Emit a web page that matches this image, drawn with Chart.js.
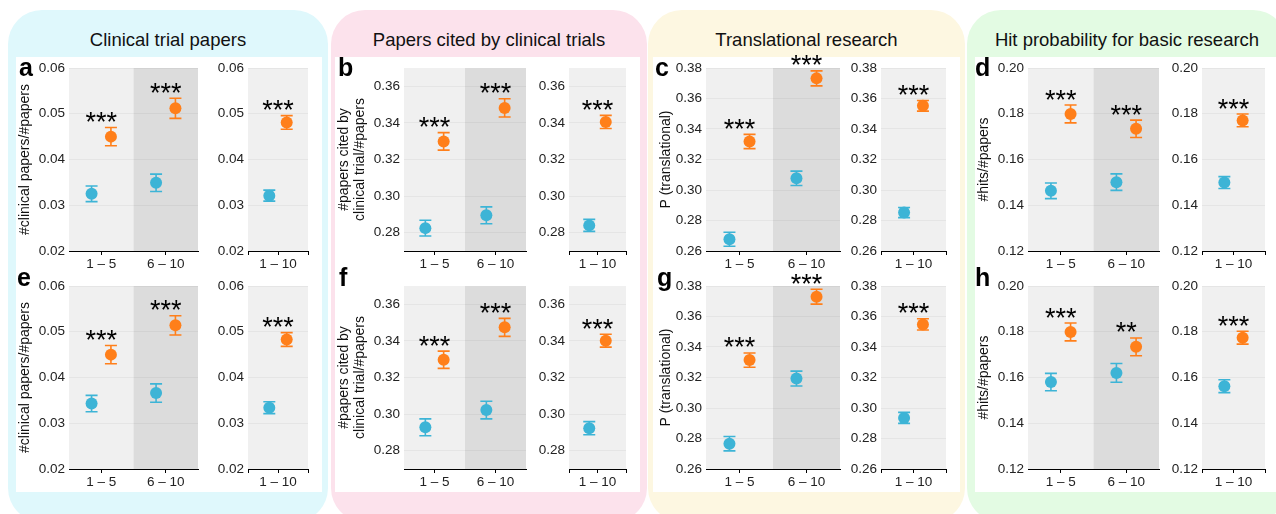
<!DOCTYPE html>
<html><head><meta charset="utf-8">
<script src="https://cdn.jsdelivr.net/npm/chart.js@4.4.1/dist/chart.umd.min.js"></script>
<style>
html,body{margin:0;padding:0;background:#fff;}
#root{position:relative;width:1276px;height:514px;overflow:hidden;font-family:"Liberation Sans",Arial,Helvetica,sans-serif;}
.panel{position:absolute;top:10px;height:512px;border-radius:34px;}
.inner{position:absolute;top:57px;height:435px;background:#fff;}
.ptitle{position:absolute;top:29px;height:22px;line-height:22px;font-size:18.5px;text-align:center;color:#111;white-space:nowrap;}
.letter{position:absolute;font-weight:bold;font-size:25px;line-height:25px;color:#000;}
canvas{position:absolute;}
</style></head><body><div id="root"></div>
<script>
// ---------------- data ----------------
const groupLabels = ['1 \u2013 5', '6 \u2013 10'];
const allLabels = ['', '1 \u2013 10', ''];

const clinTicks = [0.02, 0.03, 0.04, 0.05, 0.06];
const citedTicks = [0.28, 0.30, 0.32, 0.34, 0.36];
const transTicks = [0.26, 0.28, 0.30, 0.32, 0.34, 0.36, 0.38];
const hitTicks = [0.12, 0.14, 0.16, 0.18, 0.20];

// order: [1-5, 6-10, 1-10]
const aBlue = [0.0325, 0.0349, 0.0321];
const aBlueErr = [0.0017, 0.0019, 0.0012];
const aOrange = [0.0450, 0.0512, 0.0481];
const aOrangeErr = [0.0020, 0.0022, 0.0015];
const aSig = ['***', '***', '***'];

const eBlue = [0.0343, 0.0366, 0.0334];
const eBlueErr = [0.0018, 0.0020, 0.0013];
const eOrange = [0.0450, 0.0514, 0.0483];
const eOrangeErr = [0.0020, 0.0021, 0.0015];
const eSig = ['***', '***', '***'];

const bBlue = [0.2825, 0.2895, 0.2840];
const bBlueErr = [0.0043, 0.0046, 0.0033];
const bOrange = [0.3299, 0.3482, 0.3405];
const bOrangeErr = [0.0048, 0.0050, 0.0036];
const bSig = ['***', '***', '***'];

const fBlue = [0.2928, 0.3022, 0.2923];
const fBlueErr = [0.0046, 0.0048, 0.0036];
const fOrange = [0.3297, 0.3474, 0.3401];
const fOrangeErr = [0.0047, 0.0049, 0.0035];
const fSig = ['***', '***', '***'];

const cBlue = [0.2677, 0.3077, 0.2852];
const cBlueErr = [0.0046, 0.0047, 0.0033];
const cOrange = [0.3318, 0.3732, 0.3552];
const cOrangeErr = [0.0047, 0.0049, 0.0035];
const cSig = ['***', '***', '***'];

const gBlue = [0.2766, 0.3193, 0.2935];
const gBlueErr = [0.0047, 0.0049, 0.0036];
const gOrange = [0.3314, 0.3730, 0.3548];
const gOrangeErr = [0.0047, 0.0049, 0.0037];
const gSig = ['***', '***', '***'];

const dBlue = [0.1463, 0.1501, 0.1499];
const dBlueErr = [0.0034, 0.0036, 0.0026];
const dOrange = [0.1799, 0.1734, 0.1771];
const dOrangeErr = [0.0039, 0.0038, 0.0028];
const dSig = ['***', '***', '***'];

const hBlue = [0.1580, 0.1620, 0.1562];
const hBlueErr = [0.0038, 0.0041, 0.0028];
const hOrange = [0.1799, 0.1734, 0.1774];
const hOrangeErr = [0.0039, 0.0039, 0.0028];
const hSig = ['***', '**', '***'];

// ---------------- styling / layout ----------------
const FONT = '"Liberation Sans", Arial, Helvetica, sans-serif';
const BLUE = '#3db4d6';
const ORANGE = '#ff7f1a';
const LIGHT = '#f0f0f0';
const DARK = '#dcdcdc';
const OFF_L = 0.15, OFF_R = 0.145;
const PT = 22, PR = 4, XH = 26;
const STAR_SIZE = 27;
const ROWS = [{top: 68, bottom: 251}, {top: 286, bottom: 469}];

const panels = [
  {title: 'Clinical trial papers', bg: '#dff8fc', px: 8, pw: 320, wl: 16, wr: 322,
   L: 69, R: 200, RL: 248, RR: 310, yTitle: '#clinical papers/#papers', tc: 25.5,
   ymin: 0.02, ymax: 0.06, ticks: clinTicks,
   rows: [{letter: 'a', lx: 19, blue: aBlue, be: aBlueErr, orange: aOrange, oe: aOrangeErr, sig: aSig},
          {letter: 'e', lx: 17, blue: eBlue, be: eBlueErr, orange: eOrange, oe: eOrangeErr, sig: eSig}]},
  {title: 'Papers cited by clinical trials', bg: '#fce2ec', px: 331, pw: 316, wl: 335, wr: 640,
   L: 404, R: 528, RL: 569, RR: 628, yTitle: ['#papers cited by', 'clinical trial/#papers'], tc: 344,
   ymin: 0.27, ymax: 0.37, ticks: citedTicks,
   rows: [{letter: 'b', lx: 338, blue: bBlue, be: bBlueErr, orange: bOrange, oe: bOrangeErr, sig: bSig},
          {letter: 'f', lx: 339, blue: fBlue, be: fBlueErr, orange: fOrange, oe: fOrangeErr, sig: fSig}]},
  {title: 'Translational research', bg: '#fdf7e1', px: 648, pw: 317, wl: 653, wr: 960,
   L: 706, R: 842, RL: 881, RR: 948, yTitle: 'P (translational)', tc: 666,
   ymin: 0.26, ymax: 0.38, ticks: transTicks,
   rows: [{letter: 'c', lx: 655, blue: cBlue, be: cBlueErr, orange: cOrange, oe: cOrangeErr, sig: cSig},
          {letter: 'g', lx: 657, blue: gBlue, be: gBlueErr, orange: gOrange, oe: gOrangeErr, sig: gSig}]},
  {title: 'Hit probability for basic research', bg: '#e3fbe3', px: 967, pw: 320, wl: 975, wr: 1290,
   L: 1028, R: 1161, RL: 1202, RR: 1267, yTitle: '#hits/#papers', tc: 984,
   ymin: 0.12, ymax: 0.20, ticks: hitTicks,
   rows: [{letter: 'd', lx: 975, blue: dBlue, be: dBlueErr, orange: dOrange, oe: dOrangeErr, sig: dSig},
          {letter: 'h', lx: 975, blue: hBlue, be: hBlueErr, orange: hOrange, oe: hOrangeErr, sig: hSig}]}
];
const LETTER_BASE = [76, 286];

// ---------------- plugins ----------------
const bandsPlugin = {
  id: 'bands',
  beforeDraw(chart, args, opts) {
    const {ctx, chartArea: a, scales: {x}} = chart;
    ctx.save();
    (opts.list || []).forEach(b => {
      const x0 = x.getPixelForValue(b.from), x1 = x.getPixelForValue(b.to);
      ctx.fillStyle = b.color;
      ctx.fillRect(x0, a.top, x1 - x0, a.bottom - a.top);
    });
    ctx.restore();
  }
};
const errPlugin = {
  id: 'errbars',
  beforeDatasetsDraw(chart) {
    const {ctx, scales: {x, y}} = chart;
    ctx.save();
    chart.data.datasets.forEach(ds => {
      ctx.strokeStyle = ds.backgroundColor;
      ctx.lineWidth = 1.6;
      ds.data.forEach((p, i) => {
        const px = x.getPixelForValue(p.x);
        const lo = y.getPixelForValue(p.y - ds.err[i]);
        const hi = y.getPixelForValue(p.y + ds.err[i]);
        const cap = 6;
        ctx.beginPath();
        ctx.moveTo(px, lo); ctx.lineTo(px, hi);
        ctx.moveTo(px - cap, lo); ctx.lineTo(px + cap, lo);
        ctx.moveTo(px - cap, hi); ctx.lineTo(px + cap, hi);
        ctx.stroke();
      });
    });
    ctx.restore();
  },
  afterDraw(chart, args, opts) {
    const {ctx, scales: {x, y}} = chart;
    const ds = chart.data.datasets[1];
    ctx.save();
    ctx.font = STAR_SIZE + 'px ' + FONT;
    ctx.fillStyle = '#000';
    ctx.textAlign = 'center';
    ctx.textBaseline = 'alphabetic';
    (opts.sig || []).forEach((s, i) => {
      const p = ds.data[i];
      const cx = x.getPixelForValue(opts.centers[i]);
      const top = y.getPixelForValue(p.y + ds.err[i]);
      const center = top - 12;
      ctx.fillText(s, cx, center + 0.575 * STAR_SIZE);
    });
    ctx.restore();
  }
};

// ---------------- build ----------------
const root = document.getElementById('root');
function div(cls, style, text) {
  const d = document.createElement('div');
  d.className = cls;
  Object.assign(d.style, style);
  if (text !== undefined) d.textContent = text;
  root.appendChild(d);
  return d;
}

function addChart(o) {
  const c = document.createElement('canvas');
  c.width = o.cw; c.height = o.ch;
  Object.assign(c.style, {left: o.cx + 'px', top: o.cy + 'px', width: o.cw + 'px', height: o.ch + 'px'});
  root.appendChild(c);
  const tickFont = {family: FONT, size: 13.5};
  new Chart(c, {
    type: 'scatter',
    data: {datasets: [
      {data: o.blue, err: o.blueErr, backgroundColor: BLUE, borderColor: BLUE, pointRadius: 6, pointHoverRadius: 6, pointBorderWidth: 0},
      {data: o.orange, err: o.orangeErr, backgroundColor: ORANGE, borderColor: ORANGE, pointRadius: 6, pointHoverRadius: 6, pointBorderWidth: 0}
    ]},
    options: {
      responsive: false, animation: false, devicePixelRatio: 1, events: [],
      layout: {padding: {top: PT, right: PR, left: 0, bottom: 0}},
      plugins: {
        legend: {display: false}, tooltip: {enabled: false},
        bands: {list: o.bands},
        errbars: {sig: o.sig, centers: o.centers}
      },
      scales: {
        x: {
          type: 'linear', min: o.xmin, max: o.xmax,
          afterBuildTicks: s => { s.ticks = o.xticks.map(v => ({value: v})); },
          afterFit: s => { s.height = XH; },
          ticks: {callback: (v, i) => o.xlabels[i], font: tickFont, color: '#222', padding: 1, maxRotation: 0, autoSkip: false},
          grid: {drawOnChartArea: false, drawTicks: true, tickLength: 4, color: '#000', lineWidth: 1},
          border: {display: true, color: '#000', width: 1}
        },
        y: {
          min: o.ymin, max: o.ymax,
          afterBuildTicks: s => { s.ticks = o.yticks.map(v => ({value: v})); },
          afterFit: s => { s.width = o.yw; },
          ticks: {callback: v => Number(v).toFixed(2), font: tickFont, color: '#222', padding: 4, autoSkip: false},
          grid: {color: 'rgba(0,0,0,0.045)', drawTicks: false, lineWidth: 1},
          border: {display: false},
          title: o.title ? {display: true, text: o.title, color: '#111',
                  font: {family: FONT, size: 14, lineHeight: 1.15},
                  padding: {top: o.titlePad, bottom: 0}} : {display: false}
        }
      }
    },
    plugins: [bandsPlugin, errPlugin]
  });
}

panels.forEach(P => {
  div('panel', {left: P.px + 'px', width: P.pw + 'px', background: P.bg});
  div('inner', {left: P.wl + 'px', width: (P.wr - P.wl) + 'px'});
  div('ptitle', {left: P.px + 'px', width: P.pw + 'px'}, P.title);
  P.rows.forEach((r, ri) => {
    const row = ROWS[ri];
    const cy = row.top - PT;
    const ch = row.bottom - row.top + PT + XH;
    const lh = 14 * 1.15;
    addChart({
      cx: P.wl, cy, cw: P.R - P.wl + PR, ch, yw: P.L - P.wl,
      xmin: 0, xmax: 2, xticks: [0.5, 1.5], xlabels: groupLabels,
      ymin: P.ymin, ymax: P.ymax, yticks: P.ticks,
      blue: [0, 1].map(i => ({x: i + 0.5 - OFF_L, y: r.blue[i]})), blueErr: r.be.slice(0, 2),
      orange: [0, 1].map(i => ({x: i + 0.5 + OFF_L, y: r.orange[i]})), orangeErr: r.oe.slice(0, 2),
      sig: r.sig.slice(0, 2), centers: [0.5, 1.5],
      bands: [{from: 0, to: 1, color: LIGHT}, {from: 1, to: 2, color: DARK}],
      title: P.yTitle, titlePad: P.tc - P.wl - lh / 2
    });
    const rcx = P.R + PR;
    addChart({
      cx: rcx, cy, cw: P.RR - rcx + PR, ch, yw: P.RL - rcx,
      xmin: 0, xmax: 1, xticks: [0, 0.5, 1], xlabels: allLabels,
      ymin: P.ymin, ymax: P.ymax, yticks: P.ticks,
      blue: [{x: 0.5 - OFF_R, y: r.blue[2]}], blueErr: [r.be[2]],
      orange: [{x: 0.5 + OFF_R, y: r.orange[2]}], orangeErr: [r.oe[2]],
      sig: [r.sig[2]], centers: [0.5],
      bands: [{from: 0, to: 1, color: LIGHT}],
      title: null
    });
    div('letter', {left: r.lx + 'px', top: (LETTER_BASE[ri] - 25 * 0.8465) + 'px'}, r.letter);
  });
});
</script></body></html>
